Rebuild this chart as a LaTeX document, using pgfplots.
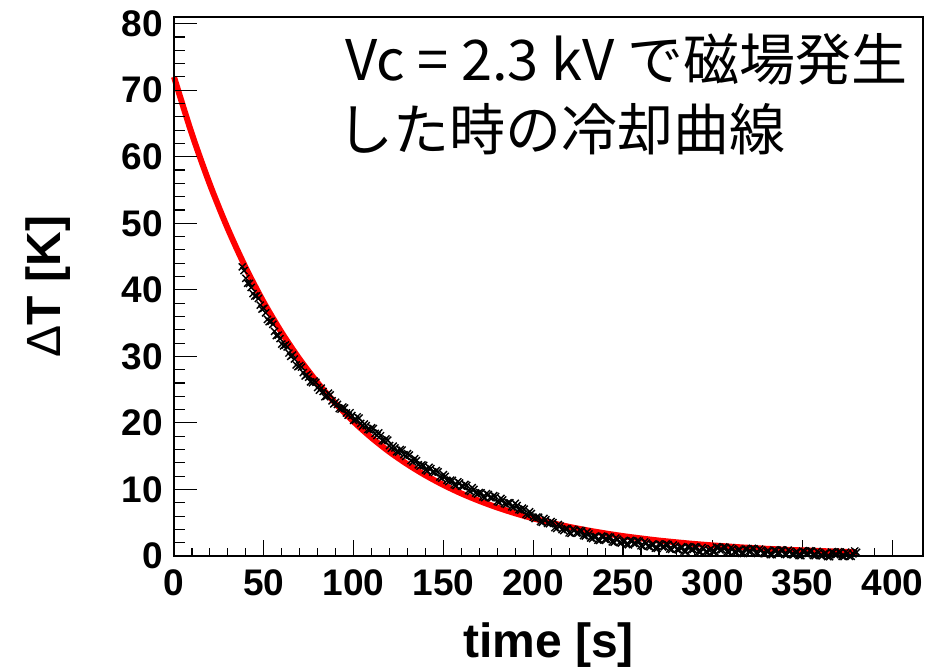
\documentclass[border=0pt]{standalone}
\usepackage{fontspec}
\setmainfont{Liberation Sans}
\newfontfamily\jp{Noto Sans CJK JP}
\usepackage{pgfplots}
\usepackage{pgfplotstable}
\pgfplotsset{compat=1.18}

\pgfplotstableread{
t T
38 43.45
40 41.73
42 40.95
44 39.44
46 39.10
48 37.70
50 37.22
52 35.56
54 35.27
56 33.76
58 33.18
60 31.86
62 31.72
64 30.50
66 30.20
68 28.72
70 28.60
72 27.56
74 27.24
76 26.18
78 26.29
80 25.32
82 25.22
84 23.93
86 24.46
88 23.33
90 23.10
92 22.15
94 22.37
96 21.49
98 21.53
100 20.38
102 20.92
104 19.93
106 19.84
108 19.02
110 19.27
112 18.42
114 18.49
116 17.36
118 17.60
120 16.59
122 16.50
124 15.67
126 15.99
128 15.23
130 15.38
132 14.33
134 14.64
136 13.71
138 13.69
140 12.93
142 13.32
144 12.63
146 12.84
148 11.86
150 12.23
152 11.36
154 11.40
156 10.70
158 11.15
160 10.50
162 10.77
164 9.84
166 10.26
168 9.45
170 9.53
172 8.87
174 9.37
176 8.77
178 9.08
180 8.19
182 8.66
184 7.88
186 8.01
188 7.39
190 7.92
192 6.96
194 7.20
196 6.25
198 6.65
200 5.80
202 5.86
204 5.17
206 5.64
208 4.91
210 5.18
212 4.25
214 4.73
216 3.96
218 4.10
220 3.48
222 4.02
224 3.47
226 3.86
228 3.06
230 3.61
232 2.71
234 2.92
236 2.38
238 2.99
240 2.50
242 2.91
244 2.13
246 2.70
248 2.02
250 2.24
252 1.72
254 2.35
256 1.87
258 2.30
260 1.54
262 2.12
264 1.46
266 1.69
268 1.18
270 1.82
272 1.36
274 1.81
276 1.05
278 1.65
280 1.00
282 1.24
284 0.74
286 1.39
288 0.95
290 1.40
292 0.66
294 1.26
296 0.62
298 0.88
300 0.69
302 1.35
304 0.91
306 1.37
308 0.63
310 1.25
312 0.61
314 0.88
316 0.39
318 1.06
320 0.68
322 1.15
324 0.42
326 1.04
328 0.41
330 0.68
332 0.21
334 0.88
336 0.45
338 0.93
340 0.25
342 0.88
344 0.26
346 0.53
348 0.06
350 0.74
352 0.32
354 0.80
356 0.08
358 0.71
360 0.09
362 0.37
364 -0.10
366 0.59
368 0.17
370 0.65
372 -0.06
374 0.57
376 -0.05
378 0.34
380 0.55
}\blackdata

\pgfplotstableread{
t T
39 42.89
41 40.99
43 40.35
45 39.07
47 38.70
49 37.11
51 36.54
53 35.22
55 34.82
57 33.12
59 32.67
61 31.59
63 31.41
65 30.00
67 29.61
69 28.46
71 28.38
73 27.05
75 26.86
77 26.04
79 26.11
81 24.92
83 24.73
85 24.00
87 24.20
89 22.87
91 22.78
93 22.06
95 22.23
97 21.16
99 21.11
101 20.45
103 20.73
105 19.54
107 19.58
109 18.95
111 19.15
113 18.11
115 18.08
117 17.28
119 17.40
121 16.20
123 16.24
125 15.63
127 15.91
129 14.96
131 15.16
133 14.14
135 14.33
137 13.50
139 13.61
141 12.78
143 13.13
145 12.54
147 12.65
149 11.70
151 11.95
153 11.18
155 11.35
157 10.58
159 10.98
161 10.44
163 10.61
165 9.70
167 10.01
169 9.29
171 9.50
173 8.77
175 9.22
177 8.73
179 8.94
181 8.08
183 8.42
185 7.75
187 8.00
189 7.31
191 7.59
193 6.88
195 7.03
197 6.10
199 6.38
201 5.63
203 5.82
205 5.06
207 5.43
209 4.85
211 5.02
213 4.14
215 4.50
217 3.83
219 4.09
221 3.40
223 3.90
225 3.47
227 3.76
229 2.99
231 3.31
233 2.62
235 2.95
237 2.34
239 2.90
241 2.51
243 2.82
245 2.07
247 2.51
249 1.93
251 2.28
253 1.69
255 2.26
257 1.89
259 2.22
261 1.48
263 1.94
265 1.38
267 1.74
269 1.15
271 1.74
273 1.39
275 1.73
277 1.00
279 1.48
281 0.92
283 1.29
285 0.72
287 1.32
289 0.98
291 1.33
293 0.61
295 1.09
297 0.55
299 1.09
301 0.67
303 1.28
305 0.94
307 1.30
309 0.59
311 1.08
313 0.55
315 0.94
317 0.38
319 1.02
321 0.72
323 1.09
325 0.38
327 0.88
329 0.35
331 0.75
333 0.20
335 0.82
337 0.49
339 0.89
341 0.22
343 0.72
345 0.20
347 0.60
349 0.05
351 0.68
353 0.36
355 0.74
357 0.05
359 0.55
361 0.03
363 0.44
365 -0.10
367 0.53
369 0.21
371 0.60
373 -0.09
375 0.41
377 -0.05
379 0.75
}\blackdatab

\begin{document}
\begin{tikzpicture}
\pgfplotsset{common/.style={
  scale only axis, width=749pt, height=539pt,
  xmin=0, xmax=417, ymin=0, ymax=81,
  at={(0pt,0pt)}, anchor=south west,
  axis line style={line width=1.2pt},
  tick style={line width=1.1pt, black},
  tick align=inside, tick pos=left,
  tick label style={font=\fontsize{37}{37}\selectfont\bfseries},
  /pgf/number format/assume math mode=true,
  clip=false,
}}
\begin{axis}[common,
  xtick={0,50,...,400}, minor x tick num=4, ytick=\empty,
  major tick length=16pt, minor tick length=8pt,
  xticklabel style={inner sep=0pt, anchor=north}, xticklabel shift=13pt]
\addplot[only marks, mark=x, mark size=5pt, line width=1.4pt, black] table {\blackdata};
\addplot[only marks, mark=x, mark size=5pt, line width=1.4pt, black] table {\blackdatab};
\addplot[red, line width=6pt, smooth] coordinates {
(0,72.00) (10,63.40) (20,55.83) (30,49.16) (40,43.28) (50,38.11) (60,33.56)
(70,29.55) (80,26.02) (90,22.91) (100,20.18) (110,17.77) (120,15.64)
(130,13.78) (140,12.13) (150,10.68) (160,9.40) (170,8.28) (180,7.29)
(190,6.42) (200,5.65) (210,4.98) (220,4.38) (230,3.86) (240,3.40)
(250,2.99) (260,2.64) (270,2.32) (280,2.05) (290,1.80) (300,1.59)
(310,1.40) (320,1.23) (330,1.08) (340,0.95) (350,0.84) (360,0.74)
(370,0.65) (380,0.57)};
\node[anchor=base west, inner sep=0pt, font=\jp\fontsize{56}{56}\selectfont] at (axis cs:95.2,71.5) {Vc = 2.3 kV で磁場発生};
\node[anchor=base west, inner sep=0pt, font=\jp\fontsize{56}{56}\selectfont] at (axis cs:90.8,60.9) {した時の冷却曲線};
\node[anchor=base, inner sep=0pt, font=\fontsize{48}{48}\selectfont\bfseries] at (axis description cs:0.5,-0.189) {time [s]};
\end{axis}
\begin{axis}[common,
  xtick=\empty, ytick={0,10,...,80}, minor y tick num=4,
  major tick length=22.7pt, minor tick length=11pt,
  yticklabel style={inner sep=0pt, anchor=east}, yticklabel shift=11pt]
\node[rotate=90, anchor=base, inner sep=0pt, font=\fontsize{48}{48}\selectfont\bfseries] at (axis description cs:-0.152,0.5) {{\mdseries Δ}T [K]};
\end{axis}
\pgfresetboundingbox
\path[use as bounding box] (-174pt,-115pt) rectangle (752pt,556pt);
\end{tikzpicture}
\end{document}
